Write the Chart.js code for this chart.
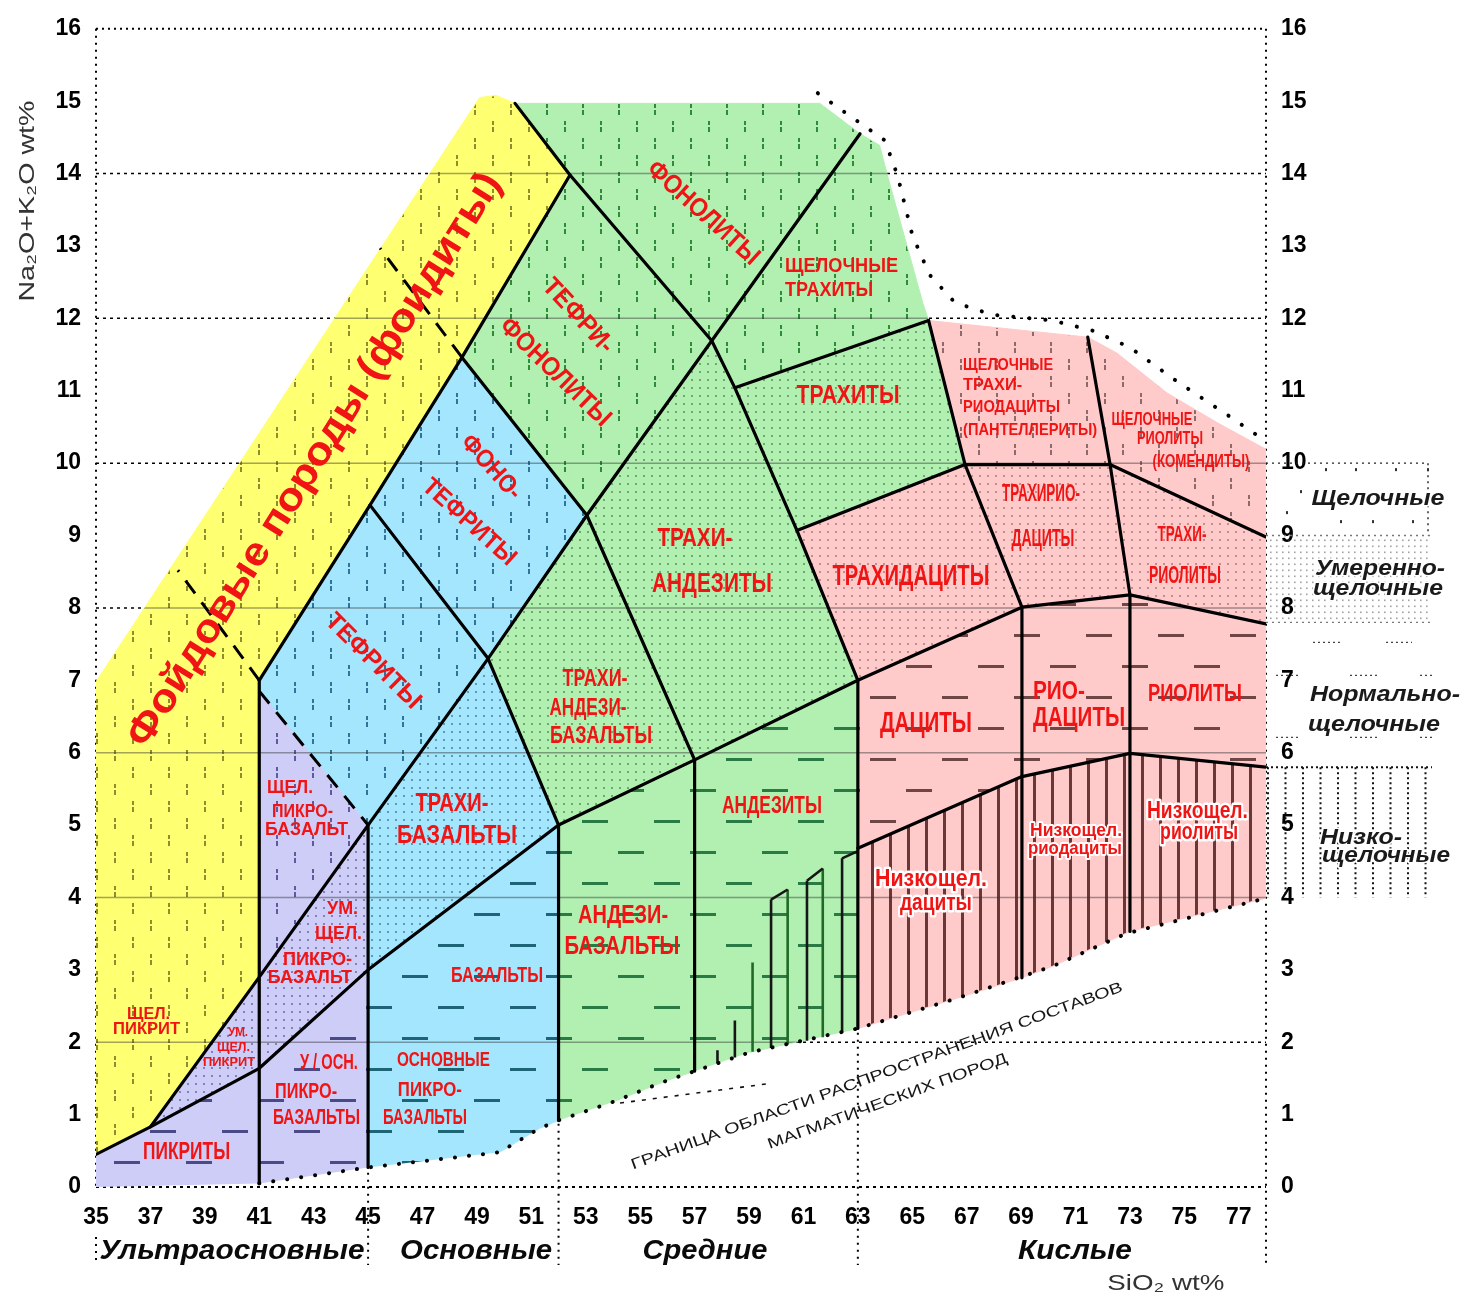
<!DOCTYPE html>
<html>
<head>
<meta charset="utf-8">
<title>TAS — классификация вулканических пород</title>
<script src="https://cdn.jsdelivr.net/npm/chart.js@4.4.1/dist/chart.umd.min.js"></script>
<style>
  html, body { margin: 0; padding: 0; background: #fff; }
  canvas { display: block; }
</style>
</head>
<body>
<canvas id="tas" width="1464" height="1301"></canvas>
<script>
// ---- axes -------------------------------------------------------------
const siTicks = [35, 37, 39, 41, 43, 45, 47, 49, 51, 53, 55, 57, 59, 61, 63, 65, 67, 69, 71, 73, 75, 77];
const naTicks = [0, 1, 2, 3, 4, 5, 6, 7, 8, 9, 10, 11, 12, 13, 14, 15, 16];
const refLevels = [0, 2, 4, 6, 8, 10, 12, 14, 16];
const groupBounds = [45, 52, 63];

// ---- classification fields: [SiO2, Na2O+K2O] vertices -----------------
// ultrabasic, foid-bearing
const foidites = [[35, 0.45], [37, 0.83], [41, 2.9], [41, 7], [45.07, 9.42], [48.45, 11.46], [52.42, 13.98], [50.4, 14.97], [49.7, 15.08], [49.1, 15.05], [35, 6.98]];
// ultrabasic
const picrites = [[35, 0], [35, 0.45], [37, 0.83], [41, 1.64], [41, 0.05]];
const modAlkPicrites = [[37, 0.83], [41, 2.9], [41, 1.64]];
const ultraPicrobasalts = [[41, 0.05], [41, 1.64], [45, 3], [45, 0.27]];
const modAlkPicrobasalts = [[41, 1.64], [41, 2.9], [45, 5], [45, 3]];
const alkPicrobasalts = [[41, 2.9], [41, 6.85], [45, 5]];
// basic
const tephrites = [[41, 6.85], [41, 7], [45.07, 9.42], [49.41, 7.3], [45, 5]];
const phonotephrites = [[45.07, 9.42], [48.45, 11.46], [53.04, 9.28], [49.41, 7.3]];
const trachybasalts = [[45, 3], [45, 5], [49.41, 7.3], [52, 5]];
const basalts = [[45, 0.27], [45, 3], [52, 5], [52, 0.92], [51.3, 0.81], [49.83, 0.48]];
// intermediate
const tephriphonolites = [[48.45, 11.46], [52.42, 13.98], [57.63, 11.69], [53.04, 9.28]];
const phonolites = [[50.4, 14.97], [61.6, 14.97], [63.08, 14.55], [57.63, 11.69], [52.42, 13.98]];
const alkTrachytes = [[57.63, 11.69], [63.08, 14.55], [63.8, 14.39], [64.07, 14.0], [65.39, 12.21], [65.6, 11.97], [58.48, 11.04]];
const trachytes = [[58.48, 11.04], [65.6, 11.97], [66.94, 9.98], [60.76, 9.07]];
const trachyandesites = [[53.04, 9.28], [57.63, 11.69], [58.48, 11.04], [60.76, 9.07], [63, 7], [57, 5.9]];
const basTrachyandesites = [[49.41, 7.3], [53.04, 9.28], [57, 5.9], [52, 5]];
const basAndesites = [[52, 0.92], [52, 5], [57, 5.9], [57, 1.6], [55.98, 1.47], [53.89, 1.16]];
const andesites = [[57, 1.6], [57, 5.9], [63, 7], [63, 2.19], [59.03, 1.86]];
// acid
const trachydacites = [[60.76, 9.07], [66.94, 9.98], [69.03, 8.01], [63, 7]];
const pantellerites = [[65.6, 11.97], [71.45, 11.74], [72.27, 9.98], [66.94, 9.98]];
const comendites = [[71.45, 11.74], [72.52, 11.52], [74.36, 10.97], [76.2, 10.56], [78, 10.19], [78, 8.98], [72.27, 9.98]];
const trachyrhyodacites = [[66.94, 9.98], [72.27, 9.98], [73, 8.18], [69.03, 8.01]];
const trachyrhyolites = [[72.27, 9.98], [78, 8.98], [78, 7.78], [73, 8.18]];
const dacites = [[63, 7], [69.03, 8.01], [69.03, 5.67], [63, 4.68]];
const rhyodacites = [[69.03, 8.01], [73, 8.18], [73, 5.99], [69.03, 5.67]];
const rhyolites = [[73, 8.18], [78, 7.78], [78, 5.8], [73, 5.99]];
const lowDacites = [[63, 4.68], [69.03, 5.67], [69.03, 2.89], [66.67, 2.61], [63, 2.19]];
const lowRhyodacites = [[69.03, 5.67], [73, 5.99], [73, 3.53], [70.16, 3.05], [69.03, 2.89]];
const lowRhyolites = [[73, 5.99], [78, 5.8], [78, 3.99], [73, 3.53]];

// ---- boundary lines ----------------------------------------------------
const moderateLine = [[35, 0.45], [37, 0.83], [41, 1.64], [45, 3], [52, 5], [57, 5.9], [63, 7], [69.03, 8.01], [73, 8.18], [78, 7.78]];
const lowAlkLine = [[63, 4.68], [69.03, 5.67], [73, 5.99], [78, 5.8]];
const alkLine = [[37, 0.83], [41, 2.9], [45, 5], [49.41, 7.3], [53.04, 9.28], [57.63, 11.69], [63.08, 14.55]];
const foidLine = [[41, 7], [45.07, 9.42], [48.45, 11.46], [52.42, 13.98], [50.4, 14.97]];
const crossLine1 = [[45.07, 9.42], [49.41, 7.3], [52, 5]];
const crossLine2 = [[48.45, 11.46], [53.04, 9.28], [57, 5.9]];
const crossLine3 = [[52.42, 13.98], [57.63, 11.69], [58.48, 11.04], [60.76, 9.07], [63, 7]];
const trachyteBase = [[58.48, 11.04], [65.6, 11.97]];
const trachydaciteTop = [[60.76, 9.07], [66.94, 9.98]];
const acidLine1 = [[65.6, 11.97], [66.94, 9.98], [69.03, 8.01]];
const acidLine2 = [[66.94, 9.98], [72.27, 9.98], [78, 8.98]];
const acidLine3 = [[71.45, 11.74], [72.27, 9.98], [73, 8.18]];
const verticalSegments = [
  [[41, 0.05], [41, 7]], [[45, 0.27], [45, 5]], [[52, 0.92], [52, 5]], [[57, 1.6], [57, 5.9]],
  [[63, 2.19], [63, 7]], [[69.03, 2.89], [69.03, 8.01]], [[73, 3.53], [73, 8.18]]
];
const dashedSegments = [[[41, 6.85], [45, 5]], [[41, 7], [38.01, 8.52]], [[48.45, 11.46], [45.44, 12.97]]];
const lowerEdge = [[41, 0.05], [45, 0.27], [49.83, 0.48], [51.3, 0.81], [52, 0.92], [53.89, 1.16], [55.98, 1.47], [59.03, 1.86], [63, 2.19], [66.67, 2.61], [70.16, 3.05], [72.85, 3.5], [78, 3.99]];
const upperEdge = [[61.53, 15.11], [62.81, 14.77], [63.99, 14.46], [64.46, 13.97], [65.01, 13.14], [65.64, 12.6], [66.56, 12.22], [67.92, 12.05], [70.16, 11.97], [71.63, 11.83], [72.99, 11.6], [74.76, 11.12], [76.6, 10.66], [77.77, 10.36]];
const edgeExtension = [[54.26, 1.16], [59.77, 1.43]];
// low-alkaline andesite steps: [SiO2, base, top]
const andesiteStepsDark = [[57.84, 1.71, 1.89], [58.48, 1.79, 2.30], [59.81, 1.92, 3.97], [61.13, 2.02, 4.23], [62.42, 2.13, 4.54]];
const andesiteStepsGreen = [[59.13, 1.87, 3.10], [60.42, 1.97, 4.11], [61.71, 2.07, 4.40]];
const andesiteStepCaps = [[[59.81, 3.97], [60.42, 4.11]], [[61.13, 4.23], [61.71, 4.40]], [[62.42, 4.54], [63, 4.64]]];

// ---- look -----------------------------------------------------------
const FONT = '"Liberation Sans", Arial, sans-serif';
const palette = {
  yellow: { bg: '#ffff72', alk: '#8e8e30' },
  purple: { bg: '#cdcdf8', alk: '#5c5c9c', mod: 'rgba(70,70,130,0.55)', norm: '#4a4a86' },
  cyan:   { bg: '#a3e6fe', alk: '#2f7499', mod: 'rgba(30,80,110,0.5)', norm: '#1d6476' },
  green:  { bg: '#b2f0b2', alk: '#2f8a3a', mod: 'rgba(40,100,50,0.5)', norm: '#2a7a45' },
  pink:   { bg: '#ffcaca', alk: '#8f6a6a', mod: 'rgba(110,70,70,0.45)', norm: '#6e4646', low: '#6b3636' }
};

const fieldTable = [
  [foidites, 'yellow', 'alk'],
  [picrites, 'purple', 'norm'], [modAlkPicrites, 'purple', 'mod'], [ultraPicrobasalts, 'purple', 'norm'],
  [modAlkPicrobasalts, 'purple', 'mod'], [alkPicrobasalts, 'purple', 'alk'],
  [tephrites, 'cyan', 'alk'], [phonotephrites, 'cyan', 'alk'], [trachybasalts, 'cyan', 'mod'], [basalts, 'cyan', 'norm'],
  [tephriphonolites, 'green', 'alk'], [phonolites, 'green', 'alk'], [alkTrachytes, 'green', 'alk'],
  [trachytes, 'green', 'mod'], [trachyandesites, 'green', 'mod'], [basTrachyandesites, 'green', 'mod'],
  [basAndesites, 'green', 'norm'], [andesites, 'green', 'norm'],
  [trachydacites, 'pink', 'mod'], [pantellerites, 'pink', 'alk'], [comendites, 'pink', 'alk'],
  [trachyrhyodacites, 'pink', 'mod'], [trachyrhyolites, 'pink', 'mod'],
  [dacites, 'pink', 'norm'], [rhyodacites, 'pink', 'norm'], [rhyolites, 'pink', 'norm'],
  [lowDacites, 'pink', 'low'], [lowRhyodacites, 'pink', 'low'], [lowRhyolites, 'pink', 'low']
];

function makePattern(bg, kind, ink) {
  const c = document.createElement('canvas');
  const g = c.getContext('2d');
  const size = { alk: [36, 34], mod: [8, 8], norm: [72, 62], low: [18, 8] }[kind];
  c.width = size[0]; c.height = size[1];
  g.fillStyle = bg; g.fillRect(0, 0, c.width, c.height);
  g.fillStyle = ink;
  if (kind === 'alk') {
    for (const [x, y] of [[6, 2], [24, 19]]) { g.fillRect(x, y, 2, 4); g.fillRect(x, y + 6, 2, 5); }
  } else if (kind === 'mod') {
    g.fillRect(3, 3, 2, 2);
  } else if (kind === 'norm') {
    g.fillRect(6, 14, 26, 3); g.fillRect(42, 45, 26, 3);
  } else {
    g.fillRect(7, 0, 3, c.height);
  }
  return g.createPattern(c, 'repeat');
}

const toPts = arr => arr.map(([x, y]) => ({ x, y }));
function joinSegments(segs) {
  const out = [];
  segs.forEach((s, i) => {
    if (i) out.push({ x: s[0][0], y: null });
    s.forEach(([x, y]) => out.push({ x, y }));
  });
  return out;
}
const stepSegs = list => list.map(([x, b, t]) => [[x, b], [x, t]]);

const datasets = [];
for (const [pts, col, kind] of fieldTable) {
  const pal = palette[col];
  datasets.push({
    type: 'line', data: toPts(pts), fill: 'shape', order: 2,
    backgroundColor: makePattern(pal.bg, kind, pal[kind]),
    borderColor: pal.bg, borderWidth: 1, pointRadius: 0, tension: 0
  });
}
const solid = { borderColor: '#000', borderWidth: 3.2, borderJoinStyle: 'round', borderCapStyle: 'round' };
function addLine(data, style) {
  datasets.push(Object.assign({ type: 'line', data, fill: false, order: 1, pointRadius: 0, tension: 0, spanGaps: false }, style));
}
[moderateLine, lowAlkLine, alkLine, foidLine, crossLine1, crossLine2, crossLine3,
 trachyteBase, trachydaciteTop, acidLine1, acidLine2, acidLine3].forEach(l => addLine(toPts(l), solid));
addLine(joinSegments(verticalSegments), solid);
addLine(joinSegments(dashedSegments), { borderColor: '#000', borderWidth: 3, borderDash: [16, 11] });
addLine(toPts(lowerEdge), { borderColor: '#000', borderWidth: 4, borderDash: [0.1, 14], borderCapStyle: 'round' });
addLine(toPts(upperEdge), { borderColor: '#000', borderWidth: 4, borderDash: [0.1, 16], borderCapStyle: 'round' });
addLine(toPts(edgeExtension), { borderColor: '#111', borderWidth: 1.6, borderDash: [4, 7] });
addLine(joinSegments(stepSegs(andesiteStepsDark).concat(andesiteStepCaps)), { borderColor: '#161616', borderWidth: 2.6 });
addLine(joinSegments(stepSegs(andesiteStepsGreen)), { borderColor: '#1f6b25', borderWidth: 2.6 });

// ---- text placements --------------------------------------------------
// [text, SiO2, Na2O+K2O, size, width, rotation, halo]
const fieldLabels = [
  ['Фойдовые породы (фоидиты)', 43.05, 10.04, 40, 670, -57.9],
  ['ФОНОЛИТЫ', 57.31, 13.45, 26, 142, 42],
  ['ТЕФРИ-', 52.71, 12.03, 26, 92, 47],
  ['ФОНОЛИТЫ', 51.87, 11.25, 26, 144, 44],
  ['ЩЕЛОЧНЫЕ', 62.40, 12.72, 20, 113, 0],
  ['ТРАХИТЫ', 61.94, 12.39, 20, 88, 0],
  ['ТРАХИТЫ', 62.64, 10.93, 25, 103, 0],
  ['ЩЕЛОЧНЫЕ', 68.52, 11.35, 17, 90, 0],
  ['ТРАХИ-', 67.95, 11.07, 17, 59, 0],
  ['РИОДАЦИТЫ', 68.65, 10.77, 17, 97, 0],
  ['(ПАНТЕЛЛЕРИТЫ)', 69.33, 10.46, 17, 134, 0],
  ['ЩЕЛОЧНЫЕ', 73.81, 10.59, 18, 81, 0],
  ['РИОЛИТЫ', 74.47, 10.33, 18, 66, 0],
  ['(КОМЕНДИТЫ)', 75.61, 10.01, 18, 97, 0],
  ['ТРАХИРИО-', 69.73, 9.56, 23, 78, 0],
  ['ДАЦИТЫ', 69.80, 8.95, 24, 63, 0],
  ['ТРАХИ-', 74.91, 9.01, 22, 49, 0],
  ['РИОЛИТЫ', 75.02, 8.43, 23, 72, 0],
  ['ТРАХИДАЦИТЫ', 64.95, 8.43, 29, 157, 0],
  ['ТРАХИ-', 57.01, 8.95, 25, 75, 0],
  ['АНДЕЗИТЫ', 57.64, 8.32, 27, 120, 0],
  ['ТРАХИ-', 53.34, 7.01, 23, 65, 0],
  ['АНДЕЗИ-', 53.08, 6.61, 23, 77, 0],
  ['БАЗАЛЬТЫ', 53.56, 6.22, 23, 102, 0],
  ['ФОНО-', 49.52, 9.94, 25, 78, 48],
  ['ТЕФРИТЫ', 48.71, 9.18, 25, 117, 42],
  ['ТЕФРИТЫ', 45.18, 7.26, 25, 124, 45],
  ['ЩЕЛ.', 42.13, 5.51, 19, 46, 0],
  ['ПИКРО-', 42.59, 5.19, 19, 61, 0],
  ['БАЗАЛЬТ', 42.74, 4.94, 19, 83, 0],
  ['УМ.', 44.06, 3.84, 18, 31, 0],
  ['ЩЕЛ.', 43.91, 3.50, 18, 47, 0],
  ['ПИКРО-', 43.14, 3.13, 18, 69, 0],
  ['БАЗАЛЬТ', 42.86, 2.88, 18, 84, 0],
  ['ЩЕЛ.', 36.93, 2.38, 16, 43, 0],
  ['ПИКРИТ', 36.86, 2.18, 16, 67, 0],
  ['УМ.', 40.22, 2.13, 12, 20, 0],
  ['ЩЕЛ.', 40.05, 1.93, 12, 33, 0],
  ['ПИКРИТ', 39.89, 1.72, 12, 52, 0],
  ['У / ОСН.', 43.56, 1.72, 22, 58, 0],
  ['ПИКРО-', 42.72, 1.31, 22, 62, 0],
  ['БАЗАЛЬТЫ', 43.10, 0.95, 22, 87, 0],
  ['ОСНОВНЫЕ', 47.77, 1.75, 21, 93, 0],
  ['ПИКРО-', 47.27, 1.34, 21, 64, 0],
  ['БАЗАЛЬТЫ', 47.09, 0.95, 22, 84, 0],
  ['ПИКРИТЫ', 38.33, 0.48, 24, 87, 0],
  ['ТРАХИ-', 48.08, 5.29, 25, 73, 0],
  ['БАЗАЛЬТЫ', 48.27, 4.85, 25, 120, 0],
  ['БАЗАЛЬТЫ', 49.74, 2.92, 22, 92, 0],
  ['АНДЕЗИ-', 54.37, 3.75, 26, 90, 0],
  ['БАЗАЛЬТЫ', 54.33, 3.32, 26, 115, 0],
  ['АНДЕЗИТЫ', 59.84, 5.26, 23, 100, 0],
  ['ДАЦИТЫ', 65.50, 6.39, 29, 92, 0],
  ['РИО-', 70.39, 6.84, 26, 52, 0],
  ['ДАЦИТЫ', 71.13, 6.47, 27, 92, 0],
  ['РИОЛИТЫ', 75.39, 6.80, 23, 94, 0],
  ['Низкощел.', 65.69, 4.25, 23, 112, 0, 5],
  ['дациты', 65.87, 3.91, 23, 72, 0, 5],
  ['Низкощел.', 71.02, 4.92, 19, 92, 0, 4],
  ['риодациты', 70.98, 4.67, 19, 94, 0, 4],
  ['Низкощел.', 75.48, 5.19, 23, 101, 0, 5],
  ['риолиты', 75.54, 4.89, 23, 78, 0, 5]
];
const edgeCaption = [
  ['ГРАНИЦА ОБЛАСТИ РАСПРОСТРАНЕНИЯ СОСТАВОВ', 63.70, 1.53, 522],
  ['МАГМАТИЧЕСКИХ ПОРОД', 64.09, 1.18, 254]
];
// [text, SiO2 centre, width]
const groupNames = [['Ультраосновные', 40.0, 265], ['Основные', 48.97, 152], ['Средние', 57.38, 125], ['Кислые', 70.98, 114]];
// [text, offset right of plot, Na2O+K2O, width]
const seriesNames = [
  ['Щелочные', 112, 9.5, 133], ['Умеренно-', 114, 8.54, 130], ['щелочные', 112, 8.26, 130],
  ['Нормально-', 119, 6.8, 150], ['щелочные', 108, 6.39, 132],
  ['Низко-', 95, 4.82, 82], ['щелочные', 120, 4.57, 128]
];

function drawText(ctx, text, cx, cy, o) {
  ctx.save();
  ctx.translate(cx, cy);
  if (o.rot) ctx.rotate(o.rot * Math.PI / 180);
  ctx.font = `${o.style || 'normal'} ${o.weight || 'bold'} ${o.size}px ${FONT}`;
  const w = ctx.measureText(text).width;
  if (o.width) ctx.scale(o.width / w, 1);
  ctx.textAlign = 'center';
  ctx.textBaseline = 'middle';
  if (o.halo) {
    ctx.lineJoin = 'round'; ctx.lineWidth = o.halo; ctx.strokeStyle = '#fff';
    ctx.strokeText(text, 0, 0);
  }
  ctx.fillStyle = o.color || '#f01414';
  ctx.fillText(text, 0, 0);
  ctx.restore();
}
function seg(ctx, x1, y1, x2, y2) { ctx.beginPath(); ctx.moveTo(x1, y1); ctx.lineTo(x2, y2); ctx.stroke(); }

// dotted frame, reference levels and group separators
const framePlugin = {
  id: 'frame',
  beforeDatasetsDraw(chart) {
    const { ctx, chartArea: a, scales: { x, y } } = chart;
    ctx.save();
    ctx.strokeStyle = '#000';
    for (const v of refLevels) {
      const py = y.getPixelForValue(v);
      ctx.lineWidth = (v === 0 || v === 16) ? 2 : 1.5;
      ctx.setLineDash(v === 16 ? [2, 4] : [3, 4]);
      seg(ctx, a.left, py, a.right, py);
    }
    ctx.lineWidth = 2;
    ctx.setLineDash([2, 5]);
    seg(ctx, a.left, a.top, a.left, a.bottom);
    seg(ctx, a.right, a.top, a.right, a.bottom + 78);
    seg(ctx, a.left, a.bottom + 50, a.left, a.bottom + 75);
    for (const v of groupBounds) {
      const px = x.getPixelForValue(v);
      seg(ctx, px, y.getPixelForValue(3), px, a.bottom + 78);
    }
    ctx.restore();
  }
};

// grey reference levels visible through the filled fields
const innerGridPlugin = {
  id: 'innerGrid',
  afterDatasetDraw(chart, args) {
    if (args.index !== 0) return;
    const { ctx, chartArea: a, scales: { x, y } } = chart;
    ctx.save();
    ctx.beginPath();
    for (const [pts] of fieldTable) {
      pts.forEach(([vx, vy], i) => {
        const px = x.getPixelForValue(vx), py = y.getPixelForValue(vy);
        if (i) ctx.lineTo(px, py); else ctx.moveTo(px, py);
      });
      ctx.closePath();
    }
    ctx.clip();
    ctx.strokeStyle = 'rgba(50,50,50,0.45)';
    ctx.lineWidth = 1.5;
    for (const v of refLevels) {
      if (v === 0 || v === 16) continue;
      const py = y.getPixelForValue(v);
      seg(ctx, a.left, py, a.right, py);
    }
    ctx.restore();
  }
};

const textPlugin = {
  id: 'texts',
  afterDraw(chart) {
    const { ctx, chartArea: a, scales: { x, y } } = chart;
    for (const [t, vx, vy, size, width, rot, halo] of fieldLabels) {
      drawText(ctx, t, x.getPixelForValue(vx), y.getPixelForValue(vy), { size, width, rot, halo });
    }
    for (const [t, vx, vy, width] of edgeCaption) {
      drawText(ctx, t, x.getPixelForValue(vx), y.getPixelForValue(vy),
        { size: 15, width, rot: -20, weight: 'normal', color: '#151515' });
    }
    for (const [t, vx, width] of groupNames) {
      drawText(ctx, t, x.getPixelForValue(vx), a.bottom + 65,
        { size: 27, width, style: 'italic', color: '#0a0a0a' });
    }
    drawText(ctx, 'SiO₂ wt%', x.getPixelForValue(74.32), a.bottom + 97,
      { size: 22, width: 117, weight: 'normal', color: '#333' });
    drawText(ctx, 'Na₂O+K₂O wt%', a.left - 68, y.getPixelForValue(13.62),
      { size: 22, width: 201, weight: 'normal', color: '#333', rot: -90 });

    // alkalinity series key on the right
    const R = a.right;
    ctx.save();
    ctx.strokeStyle = '#222';
    ctx.lineWidth = 1.4;
    ctx.setLineDash([2, 4]);
    const y10 = y.getPixelForValue(10), y9 = y.getPixelForValue(9);
    const y78 = y.getPixelForValue(7.8), y58 = y.getPixelForValue(5.8), y4 = y.getPixelForValue(4);
    seg(ctx, R, y10, R + 162, y10);
    seg(ctx, R + 162, y10, R + 162, y9);
    ctx.strokeStyle = '#777';
    seg(ctx, R, y9, R + 165, y9);
    seg(ctx, R, y78, R + 165, y78);
    ctx.fillStyle = '#333';
    for (const [dx, dy] of [[59, 5], [89, 5], [129, 5], [161, 5], [34, 27], [74, 57], [106, 57], [146, 57], [20, 48]]) {
      ctx.fillRect(R + dx, y10 + dy, 2, 3);
    }
    ctx.fillStyle = 'rgba(70,70,70,0.5)';
    for (let py = y9 + 4; py < y78 - 2; py += 6) {
      for (let px = R + 4; px < R + 165; px += 6) ctx.fillRect(px, py, 1.6, 1.6);
    }
    ctx.strokeStyle = '#444';
    ctx.setLineDash([2, 3]);
    for (const [dx1, dx2, dy] of [[47, 74, 20], [120, 146, 20], [10, 34, 53], [84, 112, 53], [154, 166, 53],
                                  [10, 34, 115], [84, 112, 115], [154, 166, 115]]) {
      seg(ctx, R + dx1, y78 + dy, R + dx2, y78 + dy);
    }
    ctx.strokeStyle = '#111';
    ctx.lineWidth = 2;
    seg(ctx, R, y58, R + 166, y58);
    for (let k = 0; k < 10; k++) {
      const px = R + 2 + k * 17.5;
      seg(ctx, px, y58, px, y4);
    }
    ctx.restore();
    for (const [t, dx, vy, width] of seriesNames) {
      drawText(ctx, t, R + dx, y.getPixelForValue(vy),
        { size: 22, width, style: 'italic', color: '#1a1a1a', halo: 3 });
    }
  }
};

const tickFont = { family: FONT, size: 23, weight: 'bold' };
new Chart(document.getElementById('tas'), {
  type: 'line',
  data: { datasets },
  options: {
    responsive: false,
    devicePixelRatio: 1,
    animation: false,
    events: [],
    layout: { padding: { top: 25, left: 0, right: 0, bottom: 0 } },
    plugins: { legend: { display: false }, tooltip: { enabled: false } },
    scales: {
      x: {
        type: 'linear', min: 35, max: 78, position: 'bottom',
        grid: { display: false, drawTicks: false }, border: { display: false },
        afterBuildTicks: s => { s.ticks = siTicks.map(v => ({ value: v })); },
        afterFit: s => { s.height = 114; },
        ticks: { color: '#000', font: tickFont, padding: 17, maxRotation: 0, autoSkip: false }
      },
      y: {
        type: 'linear', min: 0, max: 16, position: 'left',
        grid: { display: false, drawTicks: false }, border: { display: false },
        afterBuildTicks: s => { s.ticks = naTicks.map(v => ({ value: v })); },
        afterFit: s => { s.width = 96; },
        ticks: { color: '#000', font: tickFont, padding: 15, autoSkip: false }
      },
      y2: {
        type: 'linear', min: 0, max: 16, position: 'right',
        grid: { display: false, drawTicks: false }, border: { display: false },
        afterBuildTicks: s => { s.ticks = naTicks.map(v => ({ value: v })); },
        afterFit: s => { s.width = 198; },
        ticks: { color: '#000', font: tickFont, padding: 15, autoSkip: false }
      }
    }
  },
  plugins: [framePlugin, innerGridPlugin, textPlugin]
});
</script>
</body>
</html>
